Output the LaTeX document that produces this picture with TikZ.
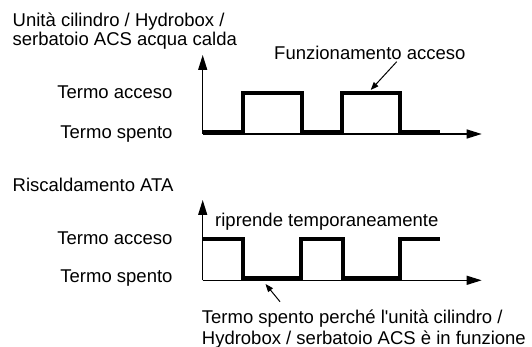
\documentclass[tikz,border=0pt]{standalone}
\usepackage{fontspec}
\setmainfont{Liberation Sans}
\usetikzlibrary{arrows.meta}

\begin{document}
\begin{tikzpicture}[x=1pt,y=-1pt,
   lbl/.style={inner sep=0pt,font=\fontsize{18.5}{19.5}\selectfont},
   ax/.style={line width=1.3pt,-{Triangle[length=15pt,width=9pt]}},
   sig/.style={line width=4pt,line join=miter},
   note/.style={line width=1pt,-{Triangle[length=8pt,width=6pt]}}]
  \useasboundingbox (0,0) rectangle (532,347);
  % upper chart: cylinder unit / Hydrobox / DHW tank
  \node[lbl,anchor=base west] (unit1) at (12.5,26.7) {Unità cilindro / Hydrobox /};
  \node[lbl,anchor=base west] (unit2) at (12.5,45.7) {serbatoio ACS acqua calda};
  \node[lbl,anchor=base west] (funz)  at (274,60) {Funzionamento acceso};
  \node[lbl,anchor=base east] (on1)   at (172.7,99) {Termo acceso};
  \node[lbl,anchor=base east] (off1)  at (172.7,138.3) {Termo spento};
  \coordinate (o1) at (202.7,134);
  \coordinate (y1) at (202.7,55);
  \coordinate (x1) at (481.7,134);
  \draw[ax] (o1) -- (y1);
  \draw[ax] (o1) -- (x1);
  \draw[sig] (202.7,132) -- (243.3,132) -- (243.3,92.7) -- (301.7,92.7) -- (301.7,132)
     -- (342.3,132) -- (342.3,92.7) -- (400,92.7) -- (400,132) -- (440,132);
  \coordinate (fa) at (396.7,61.7);
  \coordinate (fb) at (370.7,90);
  \draw[note] (fa) -- (fb);
  % lower chart: space heating
  \node[lbl,anchor=base west] (risc) at (12.5,191.7) {Riscaldamento ATA};
  \node[lbl,anchor=base west] (ripr) at (215,226) {riprende temporaneamente};
  \node[lbl,anchor=base east] (on2)  at (172.7,244) {Termo acceso};
  \node[lbl,anchor=base east] (off2) at (172.7,282.5) {Termo spento};
  \coordinate (o2) at (202.7,280.3);
  \coordinate (y2) at (202.7,200);
  \coordinate (x2) at (481.7,280.3);
  \draw[ax] (o2) -- (y2);
  \draw[ax] (o2) -- (x2);
  \draw[sig] (202.7,239.3) -- (242.7,239.3) -- (242.7,278.3) -- (300.7,278.3) -- (300.7,239.3)
     -- (342.7,239.3) -- (342.7,278.3) -- (400,278.3) -- (400,239.3) -- (440,239.3);
  \node[lbl,anchor=base west] (note1) at (201.7,323.3) {Termo spento perché l\textquotesingle unità cilindro /};
  \node[lbl,anchor=base west] (note2) at (201.7,344) {Hydrobox / serbatoio ACS è in funzione};
  \coordinate (sa) at (280,301.7);
  \coordinate (sb) at (265.5,284);
  \draw[note] (sa) -- (sb);
\end{tikzpicture}
\end{document}
